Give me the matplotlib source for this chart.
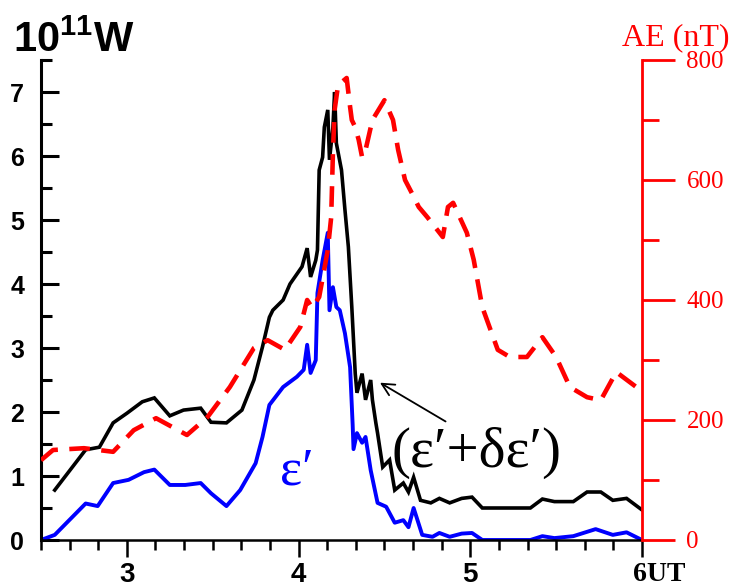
import matplotlib
matplotlib.use('Agg')
import matplotlib.pyplot as plt
from matplotlib.ticker import MultipleLocator
import matplotlib.transforms as mtransforms

# tiempos (UT) y potencia total eps' + delta eps' (10^11 W)
t_total = [2.58, 2.76, 2.84, 2.92, 3.00, 3.09, 3.16, 3.25, 3.33, 3.43, 3.49, 3.58,
           3.67, 3.74, 3.79, 3.83, 3.85, 3.91, 3.95, 4.02, 4.05, 4.07, 4.10, 4.11,
           4.12, 4.14, 4.15, 4.17, 4.18, 4.20, 4.21, 4.22, 4.25, 4.27, 4.29, 4.31,
           4.33, 4.34, 4.37, 4.39, 4.42, 4.43, 4.45, 4.46, 4.49, 4.53, 4.56, 4.61,
           4.64, 4.67, 4.71, 4.77, 4.82, 4.88, 4.95, 5.01, 5.07, 5.35, 5.42, 5.49,
           5.60, 5.68, 5.76, 5.83, 5.91, 6.00]
p_total = [0.78, 1.41, 1.45, 1.83, 1.98, 2.16, 2.22, 1.94, 2.03, 2.06, 1.84, 1.83,
           2.03, 2.50, 3.02, 3.48, 3.59, 3.75, 4.00, 4.27, 4.56, 4.11, 4.37, 4.53,
           5.78, 5.98, 6.45, 6.72, 5.94, 6.45, 7.00, 6.20, 5.78, 5.16, 4.58, 3.64,
           2.60, 2.30, 2.60, 2.19, 2.50, 2.19, 1.83, 1.67, 1.14, 1.25, 0.78, 0.89,
           0.75, 0.98, 0.62, 0.58, 0.65, 0.58, 0.65, 0.67, 0.50, 0.50, 0.64, 0.60,
           0.60, 0.75, 0.75, 0.62, 0.65, 0.47]

# potencia eps' (10^11 W)
t_eps = [2.50, 2.58, 2.76, 2.83, 2.92, 3.01, 3.10, 3.16, 3.25, 3.34, 3.43, 3.49,
         3.58, 3.66, 3.75, 3.79, 3.83, 3.91, 3.99, 4.03, 4.05, 4.07, 4.10, 4.11,
         4.14, 4.17, 4.18, 4.20, 4.22, 4.24, 4.27, 4.30, 4.315, 4.32, 4.34, 4.37,
         4.39, 4.42, 4.46, 4.51, 4.56, 4.61, 4.64, 4.67, 4.72, 4.78, 4.82, 4.88,
         4.95, 5.01, 5.07, 5.35, 5.42, 5.49, 5.60, 5.73, 5.83, 5.91, 6.00]
p_eps = [0.00, 0.08, 0.57, 0.53, 0.89, 0.94, 1.06, 1.10, 0.86, 0.86, 0.89, 0.73,
         0.53, 0.78, 1.20, 1.61, 2.11, 2.39, 2.55, 2.66, 3.05, 2.61, 2.81, 3.86,
         4.37, 4.80, 3.59, 3.95, 3.64, 3.59, 3.23, 2.70, 1.80, 1.42, 1.67, 1.52,
         1.61, 1.09, 0.58, 0.52, 0.27, 0.31, 0.20, 0.50, 0.08, 0.05, 0.11, 0.05,
         0.10, 0.11, 0.00, 0.00, 0.06, 0.03, 0.06, 0.17, 0.08, 0.12, 0.00]

# indice AE (nT)
t_ae = [2.50, 2.57, 2.75, 2.92, 3.04, 3.17, 3.35, 3.47, 3.60, 3.74, 3.82, 3.92,
        4.01, 4.05, 4.08, 4.12, 4.17, 4.19, 4.20, 4.21, 4.23, 4.28, 4.30, 4.31,
        4.33, 4.35, 4.37, 4.39, 4.43, 4.50, 4.55, 4.58, 4.62, 4.66, 4.70, 4.75,
        4.84, 4.87, 4.90, 4.98, 5.02, 5.07, 5.16, 5.23, 5.33, 5.42, 5.50, 5.58,
        5.68, 5.76, 5.85, 5.99]
ae = [133, 150, 153, 147, 183, 203, 175, 205, 255, 320, 333, 317,
      355, 400, 387, 405, 483, 538, 645, 717, 758, 770, 722, 700,
      688, 667, 638, 650, 700, 733, 700, 650, 600, 578, 555, 538,
      505, 555, 562, 512, 467, 388, 317, 305, 305, 338, 305, 255,
      238, 233, 280, 250]

x_ticks = [3, 4, 5, 6]
x_labels = ['3', '4', '5', '6UT']

plt.rcParams['mathtext.fontset'] = 'custom'
plt.rcParams['mathtext.bf'] = 'Liberation Sans:bold'
plt.rcParams['mathtext.rm'] = 'Liberation Sans:bold'

fig = plt.figure(figsize=(7.34, 5.87), dpi=100)
ax = fig.add_axes([41 / 734, 47 / 587, 601 / 734, 480 / 587])
ax2 = ax.twinx()

ax.plot(t_total, p_total, color='black', lw=2.6, solid_joinstyle='miter')
ax.plot(t_eps, p_eps, color='#0000ff', lw=2.8)
ax2.plot(t_ae, ae, color='#ff0000', lw=3.3, dashes=(4.5, 2.5))

ax.set_xlim(2.5, 6)
ax.set_ylim(0, 7.5)
ax2.set_ylim(0, 800)

# eje izquierdo
for s in ['top', 'right']:
    ax.spines[s].set_visible(False)
ax.spines['left'].set_linewidth(2.2)
ax.spines['bottom'].set_linewidth(1.8)
ax.yaxis.set_major_locator(MultipleLocator(1))
ax.yaxis.set_minor_locator(MultipleLocator(0.5))
ax.tick_params(axis='y', which='major', direction='in', length=13, width=2.2, pad=12,
               labelsize=18)
ax.tick_params(axis='y', which='minor', direction='in', length=8, width=2.2)
for lbl in ax.get_yticklabels():
    lbl.set_fontfamily('Liberation Sans')
    lbl.set_fontweight('bold')

# eje x
ax.set_xticks(x_ticks)
ax.set_xticklabels(x_labels)
ax.xaxis.set_minor_locator(MultipleLocator(1 / 6))
ax.tick_params(axis='x', which='major', direction='out', length=12, width=1.8, pad=4,
               labelsize=20)
ax.tick_params(axis='x', which='minor', direction='out', length=7, width=1.8)
xlbls = ax.get_xticklabels()
for lbl in xlbls:
    lbl.set_fontfamily('Liberation Sans')
    lbl.set_fontweight('bold')
xlbls[-1].set_fontfamily('Liberation Serif')
xlbls[-1].set_horizontalalignment('left')
xlbls[-1].set_transform(xlbls[-1].get_transform() +
                        mtransforms.ScaledTranslation(-9 / 100, 0, fig.dpi_scale_trans))

# eje derecho (AE)
for s in ['top', 'left', 'bottom']:
    ax2.spines[s].set_visible(False)
ax2.spines['right'].set_color('#ff0000')
ax2.spines['right'].set_linewidth(2.0)
ax2.yaxis.set_major_locator(MultipleLocator(200))
ax2.yaxis.set_minor_locator(MultipleLocator(100))
ax2.tick_params(axis='y', which='major', direction='out', length=24, width=2.0, pad=8,
                colors='#ff0000', labelsize=18)
ax2.tick_params(axis='y', which='minor', direction='out', length=12, width=2.0,
                colors='#ff0000')
for lbl in ax2.get_yticklabels():
    lbl.set_fontfamily('Liberation Serif')

# titulos de los ejes
fig.text(13 / 734, 1 - 52 / 587, r'$\mathbf{10^{11}W}$', fontsize=30,
         ha='left', va='baseline')
fig.text(622 / 734, 1 - 45 / 587, 'AE (nT)', color='#ff0000', fontsize=23,
         family='Liberation Serif', ha='left', va='baseline')

# etiquetas de las curvas
ax.text(3.89, 0.86, 'ε′', color='#0000ff', fontsize=38,
        family=['Liberation Serif', 'DejaVu Serif'], ha='left', va='baseline')
ax.text(4.54, 1.14, '(ε′+δε′)', color='black', fontsize=41,
        family=['Liberation Serif', 'DejaVu Serif'], ha='left', va='baseline')
ax.annotate('', xy=(4.46, 2.48), xytext=(4.87, 1.83),
            arrowprops=dict(arrowstyle='->', color='black', lw=1.3,
                            mutation_scale=22))

fig.savefig('out.png', dpi=100)
